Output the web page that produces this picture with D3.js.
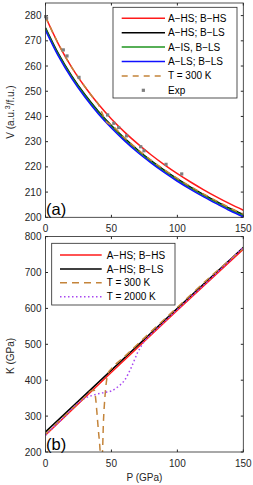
<!DOCTYPE html>
<html lang="en">
<head>
<meta charset="UTF-8">
<script src="https://d3js.org/d3.v7.min.js"></script>
<style>
  body { margin: 0; background: #fff; }
  svg { display: block; font-family: "Liberation Sans", Arial, sans-serif; }
  .tick-label { font-size: 10px; fill: #262626; }
  .leg-text { font-size: 10px; fill: #000; }
</style>
</head>
<body>
<div id="fig"></div>
<script>
// ---- panel (a): V vs P ----
const pGrid = [0, 10, 20, 30, 40, 50, 60, 70, 80, 90, 100, 110, 120, 130, 140, 150];
const vHSHS = [279.5, 268.5, 259.4, 251.7, 244.9, 239.0, 233.8, 229.1, 224.8, 220.9, 217.3, 214.0, 210.9, 208.0, 205.3, 202.8];
const vHSLS = [275.2, 264.7, 256.0, 248.6, 242.1, 236.4, 231.3, 226.7, 222.5, 218.7, 215.2, 212.0, 209.0, 206.2, 203.5, 201.1];
const vISLS = [274.8, 264.3, 255.6, 248.2, 241.7, 236.0, 230.9, 226.3, 222.1, 218.3, 214.8, 211.6, 208.6, 205.8, 203.1, 200.7];
const vLSLS = [274.2, 263.7, 255.0, 247.6, 241.1, 235.4, 230.3, 225.7, 221.6, 217.8, 214.3, 211.1, 208.1, 205.3, 202.6, 200.2];
const p300a = [0, 10, 20, 30, 38, 40, 42, 44, 46, 50, 60, 70, 80, 90, 100, 110, 120, 130, 140, 150];
const v300a = [279.5, 268.5, 259.4, 251.7, 246.2, 244.9, 242.5, 240.0, 238.0, 236.6, 231.5, 226.9, 222.7, 218.9, 215.4, 212.2, 209.2, 206.4, 203.7, 201.3];
const expP = [0.1, 0.8, 13.5, 16.3, 25.4, 47.1, 51.8, 55.5, 61.5, 72.2, 74.7, 91.4, 103.3];
const expV = [279.6, 279.0, 266.4, 264.0, 255.5, 240.6, 237.3, 235.6, 232.3, 228.0, 226.4, 221.0, 217.2];
const legendA = ["A\u2212HS; B\u2212HS", "A\u2212HS; B\u2212LS", "A\u2212IS, B\u2212LS", "A\u2212LS; B\u2212LS", "T = 300 K", "Exp"];

// ---- panel (b): K vs P ----
const pK = [0, 50, 100, 150];
const kHSHS = [247, 422, 595, 765];
const kHSLS = [256, 428, 600, 770];
const p300b = [0, 10, 20, 30, 35, 37, 38, 39, 40, 41, 41.8, 43, 44, 45, 46, 47.5, 50, 60, 75, 100, 125, 150];
const k300b = [250, 285, 320, 354, 371, 372, 350, 310, 265, 225, 190, 190, 290, 350, 390, 420, 432, 466, 518, 603, 688, 767];
const p2000 = [0, 5, 10, 15, 20, 25, 30, 35, 40, 45, 50, 55, 60, 65, 70, 75, 80, 90, 100, 125, 150];
const k2000 = [247, 265, 283, 300, 320, 338, 350, 357, 362, 366, 370, 382, 400, 435, 478, 508, 528, 562, 597, 682, 770];
const legendB = ["A\u2212HS; B\u2212HS", "A\u2212HS; B\u2212LS", "T = 300 K", "T = 2000 K"];

const W = 253, H = 485;
const axisColor = "#262626";
const cRed = "#ff1a1a", cBlack = "#000", cGreen = "#1f951f", cBlue = "#1010ff",
      cOrange = "#c4843a", cPurple = "#a847f0", cGray = "#7f7f7f";

const svg = d3.select("#fig").append("svg").attr("width", W).attr("height", H);

const x = d3.scaleLinear().domain([0, 150]).range([45.5, 243.3]);
const yA = d3.scaleLinear().domain([200, 285]).range([217.3, 3]);
const yB = d3.scaleLinear().domain([200, 800]).range([452, 236.6]);

function frame(y, yTicks, labelY, name, nameY, tag, tagY, clipId) {
  const g = svg.append("g");
  const [x0, x1] = x.range(), [yb, yt] = y.range();
  svg.append("clipPath").attr("id", clipId).append("rect")
    .attr("x", x0).attr("y", yt).attr("width", x1 - x0).attr("height", yb - yt);
  // ticks inside, all four sides
  yTicks.forEach(t => {
    g.append("line").attr("x1", x0).attr("x2", x0 + 2.5).attr("y1", y(t)).attr("y2", y(t)).attr("stroke", axisColor);
    g.append("line").attr("x1", x1).attr("x2", x1 - 2.5).attr("y1", y(t)).attr("y2", y(t)).attr("stroke", axisColor);
    g.append("text").attr("class", "tick-label").attr("x", x0 - 4).attr("y", y(t))
      .attr("dy", "0.35em").attr("text-anchor", "end").text(t);
  });
  [0, 50, 100, 150].forEach(t => {
    g.append("line").attr("x1", x(t)).attr("x2", x(t)).attr("y1", yb).attr("y2", yb - 2.5).attr("stroke", axisColor);
    g.append("line").attr("x1", x(t)).attr("x2", x(t)).attr("y1", yt).attr("y2", yt + 2.5).attr("stroke", axisColor);
    g.append("text").attr("class", "tick-label").attr("x", x(t)).attr("y", labelY)
      .attr("dy", "0.35em").attr("text-anchor", "middle").text(t);
  });
  g.append("text").attr("class", "tick-label")
    .attr("transform", `translate(10,${nameY}) rotate(-90)`)
    .attr("text-anchor", "middle").attr("dy", "0.35em").html(name);
  g.append("text").attr("x", x0 + 0.5).attr("y", tagY).style("font-size", "16.5px").text(tag);
  return g;
}

function curve(xs, ys, y, color, dash, clipId, width) {
  const line = d3.line().x(d => x(d[0])).y(d => y(d[1])).curve(d3.curveMonotoneX);
  svg.append("path").datum(xs.map((v, i) => [v, ys[i]]))
    .attr("d", line).attr("fill", "none").attr("stroke", color)
    .attr("stroke-width", width || 1.5).attr("stroke-dasharray", dash || null)
    .attr("clip-path", `url(#${clipId})`);
}

// panel (a)
frame(yA, d3.range(200, 281, 10), 228, "V (a.u.<tspan dy='-4' font-size='7'>3</tspan><tspan dy='4'>/f.u.)</tspan>", 112, "(a)", 215, "clipA");
curve(pGrid, vHSHS, yA, cRed, null, "clipA");
curve(pGrid, vHSLS, yA, cBlack, null, "clipA");
curve(pGrid, vISLS, yA, cGreen, null, "clipA");
curve(pGrid, vLSLS, yA, cBlue, null, "clipA");
curve(p300a, v300a, yA, cOrange, "6,5", "clipA");
svg.selectAll(".exp").data(expP.map((p, i) => [p, expV[i]])).enter().append("rect")
  .attr("x", d => x(d[0]) - 1.6).attr("y", d => yA(d[1]) - 1.6)
  .attr("width", 3.2).attr("height", 3.2).attr("fill", cGray);

// panel (b)
frame(yB, d3.range(200, 801, 100), 463.5, "K (GPa)", 356, "(b)", 450, "clipB");
curve(pK, kHSLS, yB, cBlack, null, "clipB");
curve(pK, kHSHS, yB, cRed, null, "clipB");
curve(p300b, k300b, yB, cOrange, "7,5", "clipB");
curve(p2000, k2000, yB, cPurple, "1.5,2.5", "clipB");

svg.append("text").attr("class", "tick-label").attr("x", x(75)).attr("y", 477.5)
  .attr("dy", "0.35em").attr("text-anchor", "middle").text("P (GPa)");

// frames drawn on top
[[yA], [yB]].forEach(([y]) => {
  const [yb, yt] = y.range(), [x0, x1] = x.range();
  svg.append("rect").attr("x", x0).attr("y", yt).attr("width", x1 - x0).attr("height", yb - yt)
    .attr("fill", "none").attr("stroke", axisColor).attr("stroke-width", 0.8);
});

// legends
function legend(labels, styles, box, lineX, textX, rowY) {
  svg.append("rect").attr("x", box[0]).attr("y", box[1]).attr("width", box[2] - box[0])
    .attr("height", box[3] - box[1]).attr("fill", "#fff").attr("stroke", axisColor).attr("stroke-width", 0.8);
  labels.forEach((lab, i) => {
    const s = styles[i], yy = rowY[i];
    if (s.marker) {
      svg.append("rect").attr("x", (lineX[0] + lineX[1]) / 2 - 1.6).attr("y", yy - 1.6)
        .attr("width", 3.2).attr("height", 3.2).attr("fill", s.color);
    } else {
      svg.append("line").attr("x1", lineX[0]).attr("x2", lineX[1]).attr("y1", yy).attr("y2", yy)
        .attr("stroke", s.color).attr("stroke-width", 1.5).attr("stroke-dasharray", s.dash || null);
    }
    svg.append("text").attr("class", "leg-text").attr("x", textX).attr("y", yy)
      .attr("dy", "0.35em").text(lab);
  });
}

legend(legendA,
  [{color: cRed}, {color: cBlack}, {color: cGreen}, {color: cBlue}, {color: cOrange, dash: "6,5"}, {color: cGray, marker: true}],
  [113, 7.3, 237, 98], [121.7, 165], 168, [18.3, 32.7, 47.1, 61.5, 75.9, 90.3]);

legend(legendB,
  [{color: cRed}, {color: cBlack}, {color: cOrange, dash: "7,5"}, {color: cPurple, dash: "1.5,2.5"}],
  [51.7, 243.3, 175, 305], [60, 101.7], 106.7, [255, 269, 282.8, 296.7]);
</script>
</body>
</html>
